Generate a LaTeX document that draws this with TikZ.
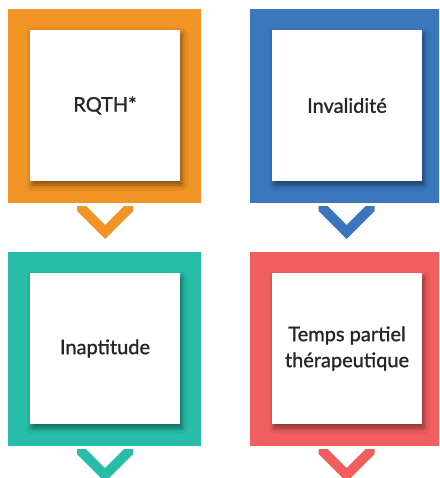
\documentclass[tikz,border=0pt]{standalone}
\usepackage{fontspec}
\setmainfont{Lato}
\newfontfamily\cardfont[BoldFont=Lato, BoldFeatures={FakeBold=1.2}]{Lato}
\usetikzlibrary{shadows.blur}
\definecolor{corange}{HTML}{F29325}
\definecolor{cblue}{HTML}{3A77BD}
\definecolor{cteal}{HTML}{27BDA9}
\definecolor{cred}{HTML}{F05F5E}
\definecolor{textgray}{HTML}{262626}
\begin{document}
\begin{tikzpicture}[x=1pt,y=-1pt,
  panel/.style={fill=#1, draw=none, inner sep=0pt, minimum width=193pt, minimum height=194pt},
  card/.style={fill=white, draw=none, inner sep=0pt, minimum width=150pt, minimum height=151pt,
    text=textgray, font=\cardfont\bfseries\fontsize{20}{26}\selectfont, align=center,
    blur shadow={shadow xshift=2pt, shadow yshift=-4pt, shadow blur radius=5pt, shadow opacity=45}},
  chevron/.pic={\fill (-28,0) -- (-19,0) -- (0,19) -- (19,0) -- (28,0) -- (28,5) -- (0,33) -- (-28,5) -- cycle;}
]
\useasboundingbox (0,0) rectangle (439,478);
\begin{scope}
\clip (0,0) rectangle (439,478);
% panels
\node[panel=corange] (p1) at (104.5,106) {};
\node[panel=cblue]   (p2) at (346.5,106) {};
\node[panel=cteal]   (p3) at (104.5,349) {};
\node[panel=cred]    (p4) at (346.5,349) {};
% chevrons
\pic[fill=corange] at (105,206) {chevron};
\pic[fill=cblue]   at (346.5,206) {chevron};
\pic[fill=cteal]   at (105,449) {chevron};
\pic[fill=cred]    at (346.5,449) {chevron};
% cards
\node[card] (c1) at (105,105.5) {RQTH*};
\node[card] (c2) at (347,105.5) {Invalidité};
\node[card] (c3) at (105,348.5) {Inaptitude};
\node[card] (c4) at (347,348.5) {Temps partiel\\thérapeutique};
\end{scope}
\end{tikzpicture}
\end{document}
